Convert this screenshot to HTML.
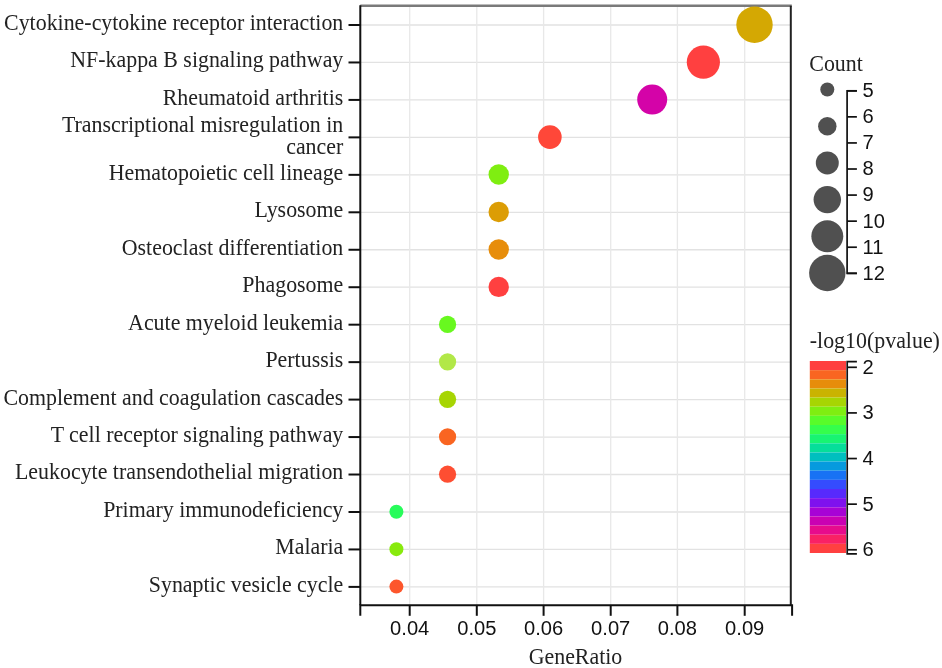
<!DOCTYPE html><html><head><meta charset="utf-8"><style>html,body{margin:0;padding:0;background:#fff;}svg{display:block;filter:blur(0.45px);}.s{font-family:"Liberation Serif",serif;font-size:21.9px;fill:#222;}.n{font-family:"Liberation Sans",sans-serif;font-size:19px;fill:#111;}</style></head><body>
<svg width="942" height="668" viewBox="0 0 942 668">
<rect width="942" height="668" fill="#fff"/>
<line x1="360.3" x2="790.8" y1="25.00" y2="25.00" stroke="#e2e2e2" stroke-width="1.3"/>
<line x1="360.3" x2="790.8" y1="62.46" y2="62.46" stroke="#e2e2e2" stroke-width="1.3"/>
<line x1="360.3" x2="790.8" y1="99.92" y2="99.92" stroke="#e2e2e2" stroke-width="1.3"/>
<line x1="360.3" x2="790.8" y1="137.38" y2="137.38" stroke="#e2e2e2" stroke-width="1.3"/>
<line x1="360.3" x2="790.8" y1="174.84" y2="174.84" stroke="#e2e2e2" stroke-width="1.3"/>
<line x1="360.3" x2="790.8" y1="212.30" y2="212.30" stroke="#e2e2e2" stroke-width="1.3"/>
<line x1="360.3" x2="790.8" y1="249.76" y2="249.76" stroke="#e2e2e2" stroke-width="1.3"/>
<line x1="360.3" x2="790.8" y1="287.22" y2="287.22" stroke="#e2e2e2" stroke-width="1.3"/>
<line x1="360.3" x2="790.8" y1="324.68" y2="324.68" stroke="#e2e2e2" stroke-width="1.3"/>
<line x1="360.3" x2="790.8" y1="362.14" y2="362.14" stroke="#e2e2e2" stroke-width="1.3"/>
<line x1="360.3" x2="790.8" y1="399.60" y2="399.60" stroke="#e2e2e2" stroke-width="1.3"/>
<line x1="360.3" x2="790.8" y1="437.06" y2="437.06" stroke="#e2e2e2" stroke-width="1.3"/>
<line x1="360.3" x2="790.8" y1="474.52" y2="474.52" stroke="#e2e2e2" stroke-width="1.3"/>
<line x1="360.3" x2="790.8" y1="511.98" y2="511.98" stroke="#e2e2e2" stroke-width="1.3"/>
<line x1="360.3" x2="790.8" y1="549.44" y2="549.44" stroke="#e2e2e2" stroke-width="1.3"/>
<line x1="360.3" x2="790.8" y1="586.90" y2="586.90" stroke="#e2e2e2" stroke-width="1.3"/>
<line x1="409.70" x2="409.70" y1="5.8" y2="605.3" stroke="#e8e8e8" stroke-width="1.3"/>
<line x1="476.80" x2="476.80" y1="5.8" y2="605.3" stroke="#e8e8e8" stroke-width="1.3"/>
<line x1="543.60" x2="543.60" y1="5.8" y2="605.3" stroke="#e8e8e8" stroke-width="1.3"/>
<line x1="610.70" x2="610.70" y1="5.8" y2="605.3" stroke="#e8e8e8" stroke-width="1.3"/>
<line x1="677.40" x2="677.40" y1="5.8" y2="605.3" stroke="#e8e8e8" stroke-width="1.3"/>
<line x1="744.70" x2="744.70" y1="5.8" y2="605.3" stroke="#e8e8e8" stroke-width="1.3"/>
<line x1="360.3" x2="791.8" y1="5.8" y2="5.8" stroke="#7a7a7a" stroke-width="2.4"/>
<line x1="790.8" x2="790.8" y1="5.8" y2="605.3" stroke="#222" stroke-width="2"/>
<path d="M360.3,5.3V605.3" stroke="#111" stroke-width="2" fill="none"/>
<path d="M360.3,615.8V605.3H792.0999999999999V615.8" stroke="#111" stroke-width="2" fill="none"/>
<line x1="348.5" x2="360.3" y1="25.00" y2="25.00" stroke="#111" stroke-width="2"/>
<line x1="348.5" x2="360.3" y1="62.46" y2="62.46" stroke="#111" stroke-width="2"/>
<line x1="348.5" x2="360.3" y1="99.92" y2="99.92" stroke="#111" stroke-width="2"/>
<line x1="348.5" x2="360.3" y1="137.38" y2="137.38" stroke="#111" stroke-width="2"/>
<line x1="348.5" x2="360.3" y1="174.84" y2="174.84" stroke="#111" stroke-width="2"/>
<line x1="348.5" x2="360.3" y1="212.30" y2="212.30" stroke="#111" stroke-width="2"/>
<line x1="348.5" x2="360.3" y1="249.76" y2="249.76" stroke="#111" stroke-width="2"/>
<line x1="348.5" x2="360.3" y1="287.22" y2="287.22" stroke="#111" stroke-width="2"/>
<line x1="348.5" x2="360.3" y1="324.68" y2="324.68" stroke="#111" stroke-width="2"/>
<line x1="348.5" x2="360.3" y1="362.14" y2="362.14" stroke="#111" stroke-width="2"/>
<line x1="348.5" x2="360.3" y1="399.60" y2="399.60" stroke="#111" stroke-width="2"/>
<line x1="348.5" x2="360.3" y1="437.06" y2="437.06" stroke="#111" stroke-width="2"/>
<line x1="348.5" x2="360.3" y1="474.52" y2="474.52" stroke="#111" stroke-width="2"/>
<line x1="348.5" x2="360.3" y1="511.98" y2="511.98" stroke="#111" stroke-width="2"/>
<line x1="348.5" x2="360.3" y1="549.44" y2="549.44" stroke="#111" stroke-width="2"/>
<line x1="348.5" x2="360.3" y1="586.90" y2="586.90" stroke="#111" stroke-width="2"/>
<line x1="409.70" x2="409.70" y1="605.3" y2="615.8" stroke="#111" stroke-width="2"/>
<text class="n" transform="translate(409.70,635.00) scale(1.06,1.07)" text-anchor="middle">0.04</text>
<line x1="476.80" x2="476.80" y1="605.3" y2="615.8" stroke="#111" stroke-width="2"/>
<text class="n" transform="translate(476.80,635.00) scale(1.06,1.07)" text-anchor="middle">0.05</text>
<line x1="543.60" x2="543.60" y1="605.3" y2="615.8" stroke="#111" stroke-width="2"/>
<text class="n" transform="translate(543.60,635.00) scale(1.06,1.07)" text-anchor="middle">0.06</text>
<line x1="610.70" x2="610.70" y1="605.3" y2="615.8" stroke="#111" stroke-width="2"/>
<text class="n" transform="translate(610.70,635.00) scale(1.06,1.07)" text-anchor="middle">0.07</text>
<line x1="677.40" x2="677.40" y1="605.3" y2="615.8" stroke="#111" stroke-width="2"/>
<text class="n" transform="translate(677.40,635.00) scale(1.06,1.07)" text-anchor="middle">0.08</text>
<line x1="744.70" x2="744.70" y1="605.3" y2="615.8" stroke="#111" stroke-width="2"/>
<text class="n" transform="translate(744.70,635.00) scale(1.06,1.07)" text-anchor="middle">0.09</text>
<text class="s" transform="translate(343.30,29.90) scale(1.0,1.1)" text-anchor="end">Cytokine-cytokine receptor interaction</text>
<text class="s" transform="translate(343.30,67.36) scale(1.0,1.1)" text-anchor="end">NF-kappa B signaling pathway</text>
<text class="s" transform="translate(343.30,104.82) scale(1.0,1.1)" text-anchor="end">Rheumatoid arthritis</text>
<text class="s" transform="translate(343.30,131.58) scale(1.0,1.1)" text-anchor="end">Transcriptional misregulation in</text>
<text class="s" transform="translate(343.30,154.08) scale(1.0,1.1)" text-anchor="end">cancer</text>
<text class="s" transform="translate(343.30,179.74) scale(1.0,1.1)" text-anchor="end">Hematopoietic cell lineage</text>
<text class="s" transform="translate(343.30,217.20) scale(1.0,1.1)" text-anchor="end">Lysosome</text>
<text class="s" transform="translate(343.30,254.66) scale(1.0,1.1)" text-anchor="end">Osteoclast differentiation</text>
<text class="s" transform="translate(343.30,292.12) scale(1.0,1.1)" text-anchor="end">Phagosome</text>
<text class="s" transform="translate(343.30,329.58) scale(1.0,1.1)" text-anchor="end">Acute myeloid leukemia</text>
<text class="s" transform="translate(343.30,367.04) scale(1.0,1.1)" text-anchor="end">Pertussis</text>
<text class="s" transform="translate(343.30,404.50) scale(1.0,1.1)" text-anchor="end">Complement and coagulation cascades</text>
<text class="s" transform="translate(343.30,441.96) scale(1.0,1.1)" text-anchor="end">T cell receptor signaling pathway</text>
<text class="s" transform="translate(343.30,479.42) scale(1.0,1.1)" text-anchor="end">Leukocyte transendothelial migration</text>
<text class="s" transform="translate(343.30,516.88) scale(1.0,1.1)" text-anchor="end">Primary immunodeficiency</text>
<text class="s" transform="translate(343.30,554.34) scale(1.0,1.1)" text-anchor="end">Malaria</text>
<text class="s" transform="translate(343.30,591.80) scale(1.0,1.1)" text-anchor="end">Synaptic vesicle cycle</text>
<text class="s" transform="translate(575.50,664.20) scale(1.0,1.1)" text-anchor="middle">GeneRatio</text>
<circle cx="754.52" cy="24.70" r="18.20" fill="rgb(212,168,3)"/>
<circle cx="703.36" cy="62.16" r="16.60" fill="rgb(255,64,64)"/>
<circle cx="652.20" cy="99.62" r="15.00" fill="rgb(212,3,168)"/>
<circle cx="549.88" cy="137.08" r="11.80" fill="rgb(255,71,57)"/>
<circle cx="498.72" cy="174.54" r="10.20" fill="rgb(127,238,17)"/>
<circle cx="498.72" cy="212.00" r="10.20" fill="rgb(220,157,5)"/>
<circle cx="498.72" cy="249.46" r="10.20" fill="rgb(231,141,11)"/>
<circle cx="498.72" cy="286.92" r="10.20" fill="rgb(255,64,64)"/>
<circle cx="447.56" cy="324.38" r="8.60" fill="rgb(104,248,31)"/>
<circle cx="447.56" cy="361.84" r="8.60" fill="rgb(178,232,72)"/>
<circle cx="447.56" cy="399.30" r="8.60" fill="rgb(167,213,3)"/>
<circle cx="447.56" cy="436.76" r="8.60" fill="rgb(249,101,33)"/>
<circle cx="447.56" cy="474.22" r="8.60" fill="rgb(254,78,50)"/>
<circle cx="396.40" cy="511.68" r="7.00" fill="rgb(40,252,91)"/>
<circle cx="396.40" cy="549.14" r="7.00" fill="rgb(136,234,13)"/>
<circle cx="396.40" cy="586.60" r="7.00" fill="rgb(253,86,44)"/>
<text class="s" transform="translate(809.30,71.30) scale(1.0,1.1)">Count</text>
<circle cx="827.3" cy="89.50" r="7.00" fill="#505050"/>
<circle cx="827.3" cy="126.20" r="9.24" fill="#505050"/>
<circle cx="827.3" cy="162.90" r="11.48" fill="#505050"/>
<circle cx="827.3" cy="199.60" r="13.72" fill="#505050"/>
<circle cx="827.3" cy="236.30" r="15.96" fill="#505050"/>
<circle cx="827.3" cy="273.00" r="18.20" fill="#505050"/>
<path d="M856.9,90.8H847.1V273.29H856.9" stroke="#111" stroke-width="1.7" fill="none"/>
<line x1="847.1" x2="856.9" y1="90.80" y2="90.80" stroke="#111" stroke-width="1.7"/>
<text class="n" transform="translate(862.50,97.20) scale(1.06,1.07)">5</text>
<line x1="847.1" x2="856.9" y1="116.87" y2="116.87" stroke="#111" stroke-width="1.7"/>
<text class="n" transform="translate(862.50,123.27) scale(1.06,1.07)">6</text>
<line x1="847.1" x2="856.9" y1="142.94" y2="142.94" stroke="#111" stroke-width="1.7"/>
<text class="n" transform="translate(862.50,149.34) scale(1.06,1.07)">7</text>
<line x1="847.1" x2="856.9" y1="169.01" y2="169.01" stroke="#111" stroke-width="1.7"/>
<text class="n" transform="translate(862.50,175.41) scale(1.06,1.07)">8</text>
<line x1="847.1" x2="856.9" y1="195.08" y2="195.08" stroke="#111" stroke-width="1.7"/>
<text class="n" transform="translate(862.50,201.48) scale(1.06,1.07)">9</text>
<line x1="847.1" x2="856.9" y1="221.15" y2="221.15" stroke="#111" stroke-width="1.7"/>
<text class="n" transform="translate(862.50,227.55) scale(1.06,1.07)">10</text>
<line x1="847.1" x2="856.9" y1="247.22" y2="247.22" stroke="#111" stroke-width="1.7"/>
<text class="n" transform="translate(862.50,253.62) scale(1.06,1.07)">11</text>
<line x1="847.1" x2="856.9" y1="273.29" y2="273.29" stroke="#111" stroke-width="1.7"/>
<text class="n" transform="translate(862.50,279.69) scale(1.06,1.07)">12</text>
<text class="s" transform="translate(809.80,347.50) scale(1.0,1.1)">-log10(pvalue)</text>
<rect x="809.8" y="361.00" width="36.2" height="9.14" fill="rgb(255,64,64)"/>
<rect x="809.8" y="370.14" width="36.2" height="9.14" fill="rgb(249,101,33)"/>
<rect x="809.8" y="379.29" width="36.2" height="9.14" fill="rgb(231,141,11)"/>
<rect x="809.8" y="388.43" width="36.2" height="9.14" fill="rgb(202,179,1)"/>
<rect x="809.8" y="397.57" width="36.2" height="9.14" fill="rgb(167,213,3)"/>
<rect x="809.8" y="406.71" width="36.2" height="9.14" fill="rgb(127,238,17)"/>
<rect x="809.8" y="415.86" width="36.2" height="9.14" fill="rgb(88,252,42)"/>
<rect x="809.8" y="425.00" width="36.2" height="9.14" fill="rgb(53,254,76)"/>
<rect x="809.8" y="434.14" width="36.2" height="9.14" fill="rgb(24,244,114)"/>
<rect x="809.8" y="443.29" width="36.2" height="9.14" fill="rgb(6,222,154)"/>
<rect x="809.8" y="452.43" width="36.2" height="9.14" fill="rgb(0,191,191)"/>
<rect x="809.8" y="461.57" width="36.2" height="9.14" fill="rgb(6,154,222)"/>
<rect x="809.8" y="470.71" width="36.2" height="9.14" fill="rgb(24,114,244)"/>
<rect x="809.8" y="479.86" width="36.2" height="9.14" fill="rgb(53,76,254)"/>
<rect x="809.8" y="489.00" width="36.2" height="9.14" fill="rgb(88,42,252)"/>
<rect x="809.8" y="498.14" width="36.2" height="9.14" fill="rgb(127,17,238)"/>
<rect x="809.8" y="507.29" width="36.2" height="9.14" fill="rgb(167,3,213)"/>
<rect x="809.8" y="516.43" width="36.2" height="9.14" fill="rgb(202,1,179)"/>
<rect x="809.8" y="525.57" width="36.2" height="9.14" fill="rgb(231,11,141)"/>
<rect x="809.8" y="534.71" width="36.2" height="9.14" fill="rgb(249,33,101)"/>
<rect x="809.8" y="543.86" width="36.2" height="9.14" fill="rgb(255,64,64)"/>
<path d="M856.9,361.6H847.2V553.9H856.9" stroke="#111" stroke-width="1.7" fill="none"/>
<line x1="847.2" x2="856.9" y1="367.30" y2="367.30" stroke="#111" stroke-width="1.7"/>
<text class="n" transform="translate(862.50,373.70) scale(1.06,1.07)">2</text>
<line x1="847.2" x2="856.9" y1="412.92" y2="412.92" stroke="#111" stroke-width="1.7"/>
<text class="n" transform="translate(862.50,419.32) scale(1.06,1.07)">3</text>
<line x1="847.2" x2="856.9" y1="458.54" y2="458.54" stroke="#111" stroke-width="1.7"/>
<text class="n" transform="translate(862.50,464.94) scale(1.06,1.07)">4</text>
<line x1="847.2" x2="856.9" y1="504.16" y2="504.16" stroke="#111" stroke-width="1.7"/>
<text class="n" transform="translate(862.50,510.56) scale(1.06,1.07)">5</text>
<line x1="847.2" x2="856.9" y1="549.78" y2="549.78" stroke="#111" stroke-width="1.7"/>
<text class="n" transform="translate(862.50,556.18) scale(1.06,1.07)">6</text>
</svg></body></html>
